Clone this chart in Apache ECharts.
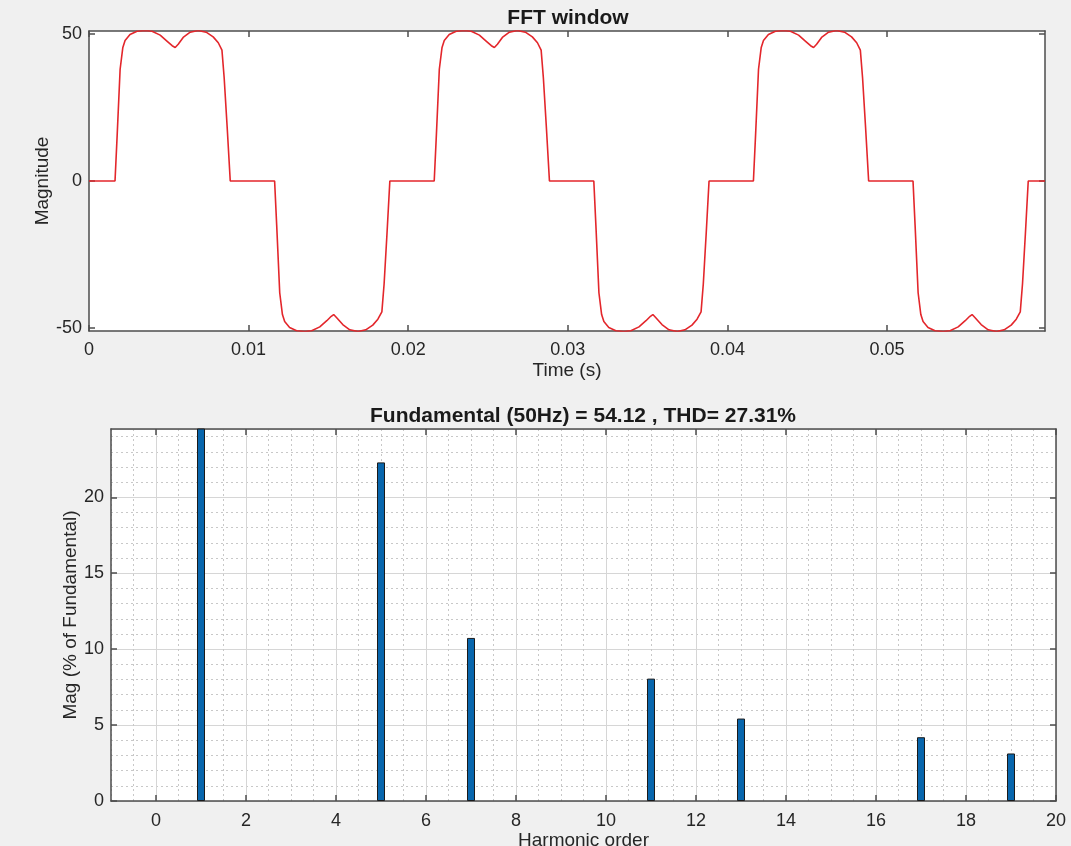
<!DOCTYPE html>
<html>
<head>
<meta charset="utf-8">
<script src="https://cdn.jsdelivr.net/npm/echarts@6/dist/echarts.min.js"></script>
<style>
  html, body { margin: 0; padding: 0; background: #f0f0f0; }
  #chart { width: 1071px; height: 846px; }
</style>
</head>
<body>
<div id="chart"></div>
<script>
// FFT window waveform, [time (s), magnitude]
const waveCycle1 = [
  [0, 0], [0.00163, 0], [0.00176, 15], [0.00195, 38], [0.00212, 45.4], [0.00226, 47.8],
  [0.00257, 49.8], [0.00301, 50.9], [0.00352, 51.2], [0.00395, 50.9], [0.00446, 49.6],
  [0.0049, 47.5], [0.00521, 46.0], [0.0054, 45.4], [0.00559, 46.5], [0.0059, 48.8],
  [0.00634, 50.6], [0.00684, 51.2], [0.00734, 50.6], [0.00778, 49.0], [0.0081, 47.0],
  [0.00833, 44.5], [0.00847, 35], [0.00866, 18], [0.00885, 0],
  [0.01163, 0], [0.01176, -15], [0.01195, -38], [0.01212, -45.4], [0.01226, -47.8],
  [0.01257, -49.8], [0.01301, -50.9], [0.01352, -51.2], [0.01395, -50.9], [0.01446, -49.6],
  [0.0149, -47.5], [0.01518, -46.0], [0.01533, -45.4], [0.01552, -46.5], [0.0159, -48.8],
  [0.01634, -50.6], [0.01686, -51.2], [0.01734, -50.6], [0.01778, -49.0], [0.0181, -47.0],
  [0.01835, -44.5], [0.01849, -35], [0.01867, -18], [0.01885, 0]
]
const waveCycle2 = [
  [0.02163, 0], [0.02176, 15], [0.02195, 38], [0.02212, 45.4], [0.02226, 47.8],
  [0.02257, 49.8], [0.02301, 50.9], [0.02352, 51.2], [0.02395, 50.9], [0.02446, 49.6],
  [0.0249, 47.5], [0.02521, 46.0], [0.0254, 45.4], [0.02559, 46.5], [0.0259, 48.8],
  [0.02634, 50.6], [0.02684, 51.2], [0.02734, 50.6], [0.02778, 49.0], [0.0281, 47.0],
  [0.02833, 44.5], [0.02847, 35], [0.02866, 18], [0.02885, 0],
  [0.03163, 0], [0.03176, -15], [0.03195, -38], [0.03212, -45.4], [0.03226, -47.8],
  [0.03257, -49.8], [0.03301, -50.9], [0.03352, -51.2], [0.03395, -50.9], [0.03446, -49.6],
  [0.0349, -47.5], [0.03518, -46.0], [0.03533, -45.4], [0.03552, -46.5], [0.0359, -48.8],
  [0.03634, -50.6], [0.03686, -51.2], [0.03734, -50.6], [0.03778, -49.0], [0.0381, -47.0],
  [0.03835, -44.5], [0.03849, -35], [0.03867, -18], [0.03885, 0]
]
const waveCycle3 = [
  [0.04163, 0], [0.04176, 15], [0.04195, 38], [0.04212, 45.4], [0.04226, 47.8],
  [0.04257, 49.8], [0.04301, 50.9], [0.04352, 51.2], [0.04395, 50.9], [0.04446, 49.6],
  [0.0449, 47.5], [0.04521, 46.0], [0.0454, 45.4], [0.04559, 46.5], [0.0459, 48.8],
  [0.04634, 50.6], [0.04684, 51.2], [0.04734, 50.6], [0.04778, 49.0], [0.0481, 47.0],
  [0.04833, 44.5], [0.04847, 35], [0.04866, 18], [0.04885, 0],
  [0.05163, 0], [0.05176, -15], [0.05195, -38], [0.05212, -45.4], [0.05226, -47.8],
  [0.05257, -49.8], [0.05301, -50.9], [0.05352, -51.2], [0.05395, -50.9], [0.05446, -49.6],
  [0.0549, -47.5], [0.05518, -46.0], [0.05533, -45.4], [0.05552, -46.5], [0.0559, -48.8],
  [0.05634, -50.6], [0.05686, -51.2], [0.05734, -50.6], [0.05778, -49.0], [0.0581, -47.0],
  [0.05835, -44.5], [0.05849, -35], [0.05867, -18], [0.05885, 0], [0.0599, 0]
]
const timeTicks = [0, 0.01, 0.02, 0.03, 0.04, 0.05]
const magTicks = [-50, 0, 50]

// harmonic spectrum, % of fundamental
const harmonicOrder = [0, 1, 2, 3, 4, 5, 6, 7, 8, 9, 10, 11, 12, 13, 14, 15, 16, 17, 18, 19]
const harmonicMag = [0, 100, 0, 0, 0, 22.3, 0, 10.74, 0, 0, 0, 8.06, 0, 5.43, 0, 0, 0, 4.2, 0, 3.13]
const orderTicks = [0, 2, 4, 6, 8, 10, 12, 14, 16, 18, 20]
const pctTicks = [0, 5, 10, 15, 20]

const axisColor = '#4d4d4d'
const textColor = '#262626'
const font = 'Liberation Sans'
const labelStyle = { color: textColor, fontSize: 18, fontFamily: font }
const nameStyle = { color: textColor, fontSize: 19, fontFamily: font }

// box edge axis: line + inward ticks, optional labels
function edgeAxis(grid, position, min, max, ticks, labels, extra) {
  return Object.assign({
    type: 'value',
    gridIndex: grid,
    position: position,
    min: min,
    max: max,
    nameMoveOverlap: false,
    axisLine: { show: true, onZero: false, lineStyle: { color: axisColor, width: 1.5 } },
    axisTick: { show: true, inside: true, length: 6, customValues: ticks, lineStyle: { color: axisColor, width: 1.5 } },
    axisLabel: labels ? Object.assign({ customValues: ticks }, labelStyle, labels) : { show: false },
    splitLine: { show: false },
  }, extra || {})
}

// invisible axis that only draws grid lines
function gridAxis(grid, position, min, max, interval, lineStyle) {
  return {
    type: 'value',
    gridIndex: grid,
    position: position,
    min: min,
    max: max,
    interval: interval,
    axisLine: { show: false },
    axisTick: { show: false },
    axisLabel: { show: false },
    splitLine: { show: true, lineStyle: lineStyle },
  }
}

const minorStyle = { color: '#c8c8c8', width: 1, type: [2, 3] }
const titleFont = 'bold 21px "Liberation Sans"'

const chart = echarts.init(document.getElementById('chart'))

chart.setOption({
  animation: false,
  backgroundColor: '#f0f0f0',
  grid: [
    { left: 89, top: 31, width: 956, height: 300, outerBoundsMode: 'none', show: true, backgroundColor: '#fff', borderWidth: 0 },
    { left: 111, top: 429, width: 945, height: 372, outerBoundsMode: 'none', show: true, backgroundColor: '#fff', borderWidth: 0 },
  ],
  graphic: [
    {
      type: 'text', x: 568, y: 18,
      style: { text: 'FFT window', font: titleFont, fill: '#1a1a1a', align: 'center', verticalAlign: 'middle' },
    },
    {
      type: 'text', x: 583, y: 416,
      style: { text: 'Fundamental (50Hz) = 54.12 , THD= 27.31%', font: titleFont, fill: '#1a1a1a', align: 'center', verticalAlign: 'middle' },
    },
  ],
  xAxis: [
    gridAxis(1, 'bottom', -1, 20, 0.5, minorStyle),
    gridAxis(1, 'bottom', -1, 20, 1, { color: ['rgba(0,0,0,0)', '#d6d6d6'], width: 1 }),
    edgeAxis(0, 'bottom', 0, 0.0599, timeTicks,
      { margin: 10, formatter: (v) => (v === 0 ? '0' : v.toFixed(2)) },
      { name: 'Time (s)', nameLocation: 'middle', nameGap: 30, nameTextStyle: nameStyle }),
    edgeAxis(0, 'top', 0, 0.0599, timeTicks, null),
    edgeAxis(1, 'bottom', -1, 20, orderTicks,
      { margin: 11 },
      { name: 'Harmonic order', nameLocation: 'middle', nameGap: 30, nameTextStyle: nameStyle }),
    edgeAxis(1, 'top', -1, 20, orderTicks, null),
  ],
  yAxis: [
    gridAxis(1, 'left', 0, 24.5, 1, minorStyle),
    gridAxis(1, 'left', 0, 24.5, 5, { color: '#d6d6d6', width: 1 }),
    edgeAxis(0, 'left', -51, 51, magTicks,
      { margin: 7 },
      { name: 'Magnitude', nameLocation: 'middle', nameGap: 37, nameTextStyle: nameStyle }),
    edgeAxis(0, 'right', -51, 51, magTicks, null),
    edgeAxis(1, 'left', 0, 24.5, pctTicks,
      { margin: 7 },
      { name: 'Mag (% of Fundamental)', nameLocation: 'middle', nameGap: 31, nameTextStyle: nameStyle }),
    edgeAxis(1, 'right', 0, 24.5, pctTicks, null),
  ],
  series: [
    {
      name: 'FFT window',
      type: 'line',
      xAxisIndex: 2,
      yAxisIndex: 2,
      data: waveCycle1.concat(waveCycle2, waveCycle3),
      showSymbol: false,
      lineStyle: { color: '#e3262b', width: 1.6 },
    },
    {
      name: 'Harmonics',
      type: 'bar',
      xAxisIndex: 4,
      yAxisIndex: 4,
      // zero-magnitude orders draw nothing
      data: harmonicOrder.map((h, i) => [h, harmonicMag[i] > 0 ? harmonicMag[i] : null]),
      barWidth: 8,
      clip: true,
      itemStyle: { color: '#0866ad', borderColor: '#1a1a1a', borderWidth: 1 },
    },
  ],
})
</script>
</body>
</html>
